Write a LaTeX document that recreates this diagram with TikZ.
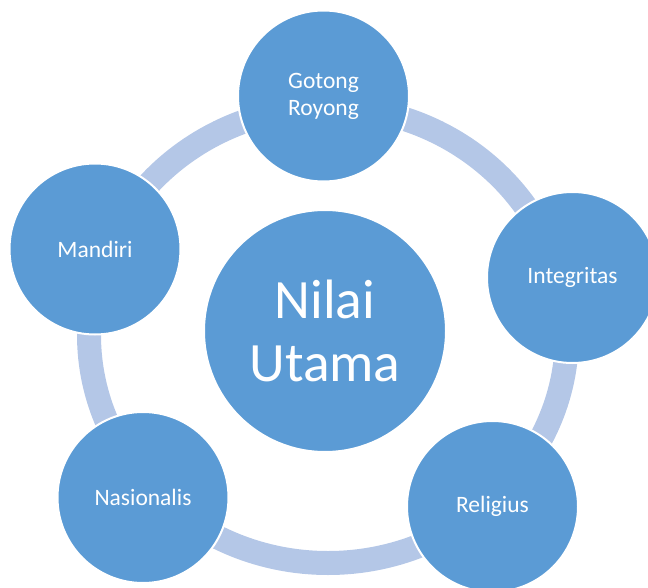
\documentclass[tikz,border=0pt]{standalone}
\usepackage{fontspec}
\setmainfont{Carlito}
\definecolor{bubblue}{HTML}{5B9BD5}
\definecolor{ringblue}{HTML}{B4C7E7}
\begin{document}
\begin{tikzpicture}[x=1pt,y=-1pt,
  bub/.style={circle, fill=bubblue, draw=white, line width=2pt, text=white,
    align=center, inner sep=0pt, minimum size=#1},
  outer/.style={bub=171pt, font=\fontsize{23.5}{27}\selectfont},
  hub/.style={bub=242pt, font=\fontsize{55.5}{62.7}\selectfont},
  ring/.style={draw=ringblue, line width=24pt}]
\useasboundingbox (0,0) rectangle (648,588);
\clip (0,0) rectangle (648,588);
\coordinate (rc) at (328,335);
\draw[ring] (rc) ellipse [x radius=239pt, y radius=228pt];
\node[hub] (center) at (325,331) {Nilai\\Utama};
\node[outer] (gotong) at (323.5,96) {Gotong\\Royong};
\node[outer] (integ) at (572.5,277.5) {Integritas};
\node[outer] (relig) at (492.5,506.5) {Religius};
\node[outer] (nasional) at (143,497.5) {Nasionalis};
\node[outer] (mandiri) at (95,249) {Mandiri};
\end{tikzpicture}
\end{document}
